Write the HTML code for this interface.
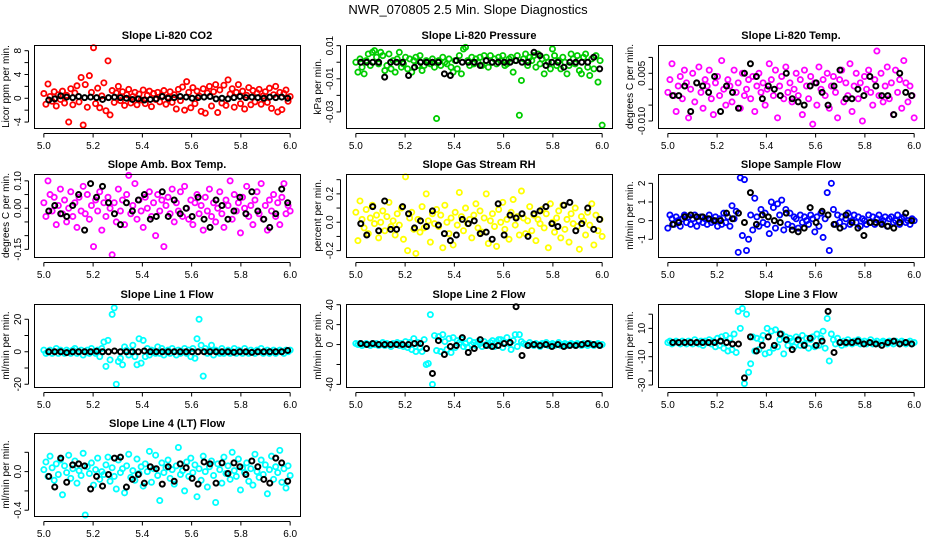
<!DOCTYPE html>
<html><head><meta charset="utf-8"><style>
html,body{margin:0;padding:0;background:#fff}
svg{display:block;font-family:"Liberation Sans",sans-serif}
</style></head><body>
<svg id="chart" width="936" height="540" viewBox="0 0 936 540" xmlns="http://www.w3.org/2000/svg">
<rect width="936" height="540" fill="#fff"/>
<text x="468" y="14" font-size="13" text-anchor="middle">NWR_070805  2.5 Min. Slope Diagnostics</text>
</svg>
<script>
// ---- data ----
const xTicks = [5.0, 5.2, 5.4, 5.6, 5.8, 6.0];
const xTickLabels = ["5.0", "5.2", "5.4", "5.6", "5.8", "6.0"];
const tStart = 5.0, tEnd = 6.0;
const bStart = 5.02, bStep = 0.02425;

const co2Vals = [0.8,-1.0,2.4,0.3,-0.5,1.1,-1.3,0.6,-0.2,1.2,-0.8,0.5,-4.0,1.6,-1.1,0.9,2.1,-0.6,3.5,-4.5,2.3,-1.5,3.8,1.0,8.5,-0.9,1.7,-1.6,0.4,2.6,-2.1,6.3,-2.8,1.3,-0.7,0.9,2.0,-0.4,1.1,-1.2,0.6,1.5,-0.8,0.3,1.0,-1.1,0.7,-0.3,1.4,-0.9,0.5,1.2,-1.4,0.8,-0.2,1.0,-0.6,0.4,1.3,-1.0,0.2,1.1,-0.7,0.6,-1.8,1.5,-0.4,1.9,-2.0,2.8,1.0,-1.6,1.8,-0.9,1.2,0.4,-2.2,1.6,-2.5,0.9,2.0,-1.3,1.1,2.3,-2.4,1.4,-0.8,2.2,-1.2,3.1,0.7,1.6,-1.5,1.0,2.3,-0.9,1.2,-1.8,0.5,1.8,-1.1,1.3,-0.6,0.9,1.5,-1.0,0.4,1.1,-0.7,1.7,-1.7,0.6,2.0,-2.3,1.0,-1.9,0.8,1.4,-0.5,0.3];
const co2Avg = [-0.3,-0.1,0.4,0.2,0.1,0.3,0.1,0.2,0.1,-0.2,0.1,0.2,0.1,0.0,-0.2,-0.1,-0.3,-0.2,-0.1,0.3,0.0,0.1,0.3,0.2,0.0,0.1,0.2,0.3,-0.1,0.0,-0.1,0.1,0.3,0.1,0.2,0.1,0.0,0.2,0.1,0.2,0.0];

const presVals = [0.000,-0.006,0.002,-0.003,-0.007,0.001,0.005,-0.002,0.006,0.007,0.003,-0.001,0.006,0.004,-0.005,-0.002,0.005,-0.004,0.001,-0.006,0.002,0.006,-0.003,-0.001,0.003,-0.004,0.002,-0.006,0.001,0.003,-0.002,0.004,-0.005,-0.002,0.001,0.000,-0.001,0.002,-0.003,-0.034,0.001,-0.002,0.003,0.000,-0.001,0.002,-0.003,-0.006,0.001,-0.004,0.004,-0.007,0.008,0.009,0.001,-0.002,0.003,-0.001,0.002,0.000,0.003,-0.002,0.004,0.001,-0.003,0.004,0.000,0.002,-0.001,0.003,0.001,0.004,-0.002,-0.001,0.002,0.003,-0.006,0.001,0.004,-0.032,-0.011,0.002,0.005,-0.002,0.003,0.001,0.004,-0.003,0.005,-0.001,0.002,-0.007,0.003,0.000,-0.004,0.008,0.004,-0.002,0.001,-0.004,0.003,0.000,-0.007,-0.002,0.005,0.002,-0.001,0.004,-0.005,-0.007,0.003,0.005,-0.003,-0.008,0.002,-0.004,0.004,-0.012,0.001,-0.038];
const presAvg = [0,0,0,0,-0.009,0,0,0,-0.008,-0.003,0,0,0,0,-0.007,-0.008,0.001,0,0,0,-0.002,0.001,0,0,0,0,0.001,0,0,0.006,0.004,-0.002,0,0,-0.003,0,0,0,0,0.003,-0.004];

const tempVals = [-0.001,0.003,0.008,-0.002,-0.007,0.001,0.004,-0.003,0.006,0.002,-0.009,0.000,0.005,-0.004,0.002,0.007,-0.001,-0.006,0.003,0.001,0.006,-0.003,-0.008,0.002,0.004,-0.002,0.009,0.000,-0.005,0.003,0.001,-0.004,0.006,-0.001,0.002,-0.006,0.005,-0.002,0.000,0.003,-0.003,0.004,-0.007,0.001,0.005,-0.001,0.002,-0.005,0.000,0.008,0.003,-0.002,0.006,-0.009,0.001,0.004,-0.003,0.007,-0.001,0.002,-0.004,0.000,0.005,-0.002,0.003,-0.008,0.006,0.001,-0.003,0.004,-0.011,0.002,-0.005,0.007,0.000,0.003,-0.002,0.005,-0.006,0.001,0.004,-0.001,-0.009,0.003,0.006,-0.004,0.002,-0.002,0.008,-0.007,0.001,0.005,-0.003,0.002,-0.010,0.004,0.000,0.006,-0.001,-0.005,0.003,0.012,-0.002,0.005,-0.004,0.001,0.007,-0.003,0.002,-0.008,0.006,-0.001,0.003,-0.006,0.009,0.002,-0.004,0.001,-0.002,-0.009];
const tempAvg = [-0.002,-0.002,0.001,-0.007,0.002,0.001,-0.001,0.004,-0.007,0.001,-0.001,-0.006,0.005,0.008,0.004,-0.003,0.001,0.000,-0.002,0.005,-0.003,-0.004,-0.005,0.001,0.002,-0.001,-0.005,0.001,0.006,-0.003,-0.003,0.000,-0.002,0.004,0.001,-0.002,-0.002,-0.008,0.005,-0.001,-0.002];

const ambVals = [0.02,-0.03,0.10,0.05,-0.01,0.04,-0.06,0.01,0.07,-0.02,0.03,-0.05,0.00,0.06,-0.03,0.02,-0.07,0.04,-0.01,0.08,-0.02,0.05,-0.04,0.01,-0.14,0.03,-0.01,0.06,-0.08,0.02,-0.03,0.04,0.00,-0.17,0.02,-0.05,0.07,-0.01,0.03,-0.06,0.05,0.12,-0.02,0.01,0.09,-0.04,0.03,-0.01,-0.07,0.04,0.00,0.06,-0.03,0.02,-0.10,0.05,-0.01,0.03,-0.14,0.01,0.04,-0.02,0.07,-0.05,0.02,-0.01,0.06,-0.03,0.08,0.00,-0.04,0.03,-0.06,0.02,0.05,-0.02,0.01,-0.08,0.04,-0.01,0.07,-0.03,0.02,-0.05,0.00,0.06,-0.02,-0.07,0.03,0.01,0.10,-0.04,0.05,-0.01,0.02,-0.09,0.04,0.00,0.08,-0.03,0.01,-0.06,0.03,0.06,-0.02,0.09,-0.04,0.01,-0.08,0.03,-0.01,0.05,-0.03,0.02,-0.06,0.04,0.09,-0.02,0.01,-0.01];
const ambAvg = [-0.01,0.01,-0.02,-0.03,0.01,0.05,-0.08,0.09,0.04,0.08,0.02,-0.02,-0.06,0.02,-0.01,0.03,0.05,-0.04,-0.03,0.06,-0.03,0.03,-0.02,0.00,-0.03,0.04,-0.04,-0.07,0.03,0.01,-0.04,-0.01,0.04,-0.02,0.06,-0.01,-0.04,-0.07,-0.02,0.07,0.02];

const rhVals = [0.07,-0.13,0.15,0.02,-0.04,0.09,-0.08,0.03,0.12,-0.01,0.05,-0.11,0.00,0.08,-0.06,0.04,0.14,-0.03,0.01,-0.09,0.06,-0.02,0.10,-0.12,0.32,-0.20,0.03,0.07,-0.05,-0.22,0.02,-0.07,0.11,-0.04,0.20,0.01,-0.14,0.06,-0.01,0.09,-0.03,0.05,-0.18,0.12,0.00,-0.08,0.03,-0.16,0.07,-0.02,0.21,0.04,-0.06,0.10,-0.01,0.02,-0.11,0.05,0.13,-0.04,0.08,-0.07,0.03,0.20,-0.15,0.01,0.06,-0.03,-0.17,0.09,0.00,0.14,-0.05,0.02,-0.12,0.07,0.16,-0.02,0.04,-0.09,0.22,0.03,-0.08,0.01,0.11,-0.06,0.05,-0.13,0.02,-0.01,0.09,-0.04,0.06,-0.18,0.13,0.00,-0.07,0.03,0.08,-0.11,0.12,-0.05,0.02,-0.14,0.06,-0.01,0.10,-0.03,-0.19,0.04,0.01,-0.09,0.07,-0.02,0.13,-0.16,0.05,-0.06,0.02,-0.10];
const rhAvg = [-0.01,-0.09,0.11,-0.06,0.15,-0.05,-0.05,0.11,0.06,-0.04,0.01,-0.03,0.08,-0.02,-0.08,-0.13,-0.09,0.02,-0.01,0.01,-0.08,-0.07,-0.12,0.13,-0.09,0.05,0.03,0.06,-0.10,0.06,0.08,0.11,-0.01,-0.03,0.12,0.14,-0.06,-0.01,0.10,-0.05,0.02];

const sampVals = [-0.4,0.3,0.1,-0.2,0.2,0.0,-0.3,0.1,0.3,-0.1,0.2,-0.2,0.1,0.3,-0.3,0.0,0.2,-0.1,0.1,-0.2,0.3,-0.1,0.0,0.2,-0.3,0.1,-0.2,0.4,-0.1,0.2,-0.3,0.8,0.1,0.5,-1.7,2.3,-0.8,2.2,-1.6,-1.0,0.3,-0.5,1.2,0.2,-0.3,0.6,-0.1,0.4,-0.2,-0.7,1.0,0.7,-0.4,0.9,0.3,1.1,-0.5,0.6,-0.2,0.4,-0.3,0.2,0.1,-0.4,0.3,-0.1,0.2,0.0,-0.2,0.3,0.1,-0.6,0.2,-0.3,0.4,-0.9,0.1,1.5,-1.6,2.0,0.6,-0.2,0.3,-0.1,0.2,-0.3,0.1,0.4,-0.2,0.0,0.3,-0.1,0.2,-0.3,0.1,0.0,-0.2,0.3,-0.1,0.2,-0.2,0.1,0.3,-0.1,0.0,0.2,-0.3,0.1,0.2,-0.1,0.0,0.3,-0.2,0.1,0.2,-0.1,0.0,-0.2,0.1,0.0];
const sampAvg = [-0.2,-0.1,0.2,0.3,0.2,0.2,0.1,0.0,0.0,0.4,0.1,0.4,-0.1,1.5,-0.2,0.3,0.2,0.0,-0.1,0.4,-0.5,-0.6,-0.4,0.7,-0.1,0.5,0.3,-0.2,-0.4,0.3,-0.1,-0.4,-0.8,-0.1,-0.1,-0.2,-0.3,-0.4,-0.1,0.4,0.0];

const l1Vals = [1,-1,0,1,-1,0,2,-1,1,0,-1,1,0,-1,1,2,-1,0,1,-2,0,1,-1,2,0,-1,1,-3,2,6,-9,7,-5,23,27,-20,-6,-4,-8,3,1,-2,0,4,-3,-8,8,-7,7,-3,2,-2,1,0,-1,3,-1,2,-2,0,1,-1,2,0,-2,1,-1,0,2,-1,1,-3,2,-4,8,20,4,-15,2,-1,1,4,-2,1,0,-1,2,-1,0,1,-1,0,2,-1,1,0,-1,2,0,-1,1,0,-1,1,0,2,-1,0,1,-1,0,1,-1,0,1,0,-1,1,0,1];
const l1Avg = [0,0,0,-0.5,0,0,0,0,0.3,0,0,0.5,0,0,0,0,0.5,0,0,0,0,0,0,0,0,0,0,0,0,0,0,-0.3,0,0,-0.4,0,0,0,0,0,0.8];

const l2Vals = [1,0,1,-1,0,1,0,-1,1,0,1,-1,0,2,-1,1,0,-2,1,0,2,-1,1,-2,3,-3,2,-5,6,-7,2,-3,-7,5,-20,-19,30,-40,9,-6,8,-7,10,3,-5,6,-8,7,-3,4,2,5,-2,1,-3,4,0,2,-1,3,1,-2,3,0,-1,2,4,-2,3,5,5,-3,2,7,1,-5,4,10,-2,10,3,1,0,-1,2,0,-1,1,0,-2,1,0,2,-1,0,1,-1,0,2,-1,0,1,-1,0,1,0,-1,1,0,-1,1,0,-1,1,0,-1,0,1,-1,0];
const l2Avg = [1,0,1,0,0,0,0,0,0,1,1,-4,-29,4,-10,-2,-1,7,-8,-4,5,-1,-2,-1,1,2,38,-11,-1,0,-1,0,-2,0,-2,-1,-1,0,1,0,-1];

const l3Vals = [0,1,-1,0,1,0,-1,1,0,-1,1,0,-1,2,0,-1,1,-2,1,0,2,-1,1,-3,3,-2,4,-4,5,-6,3,-5,6,-7,22,10,24,-29,20,-21,-15,4,-6,3,-5,2,5,-8,10,-7,8,-4,9,-3,2,6,-8,4,-2,3,1,-3,4,2,-2,5,-1,3,-4,2,4,-3,6,-2,3,8,-4,17,-13,6,2,-1,3,0,-2,1,-1,2,0,-1,1,0,2,-1,0,1,-1,0,2,-1,0,1,-1,0,1,0,-1,1,0,-1,1,0,-1,1,0,-1,0,1,-1,0];
const l3Avg = [0,0,0,0,0,0,0,0,1,0,-1,-1,-25,4,-6,-2,4,-2,6,2,-5,2,-2,3,-2,1,22,-7,0,0,0,1,-1,0,-1,-2,0,1,-1,0,-1];

const l4Vals = [0.02,0.10,-0.05,0.16,0.04,-0.09,0.08,-0.03,0.12,-0.24,0.06,-0.01,0.17,-0.07,0.03,0.11,-0.12,0.01,-0.04,0.19,-0.45,0.05,-0.02,0.09,-0.14,0.02,0.14,-0.08,0.00,-0.03,0.07,0.15,-0.10,0.04,-0.05,-0.18,0.12,-0.01,0.03,-0.22,0.06,0.18,-0.06,0.01,-0.09,0.13,-0.02,0.05,-0.15,0.08,0.00,0.21,-0.11,0.03,0.17,-0.04,-0.30,0.09,-0.01,0.04,0.12,-0.07,0.02,-0.13,0.06,0.25,-0.03,0.01,-0.20,0.10,-0.05,0.14,-0.01,0.07,-0.26,0.03,-0.09,0.16,0.00,-0.16,0.05,0.11,-0.04,-0.32,0.08,0.02,-0.12,0.15,-0.02,0.06,-0.08,0.20,0.01,-0.05,0.13,-0.19,0.04,-0.01,0.09,-0.10,0.03,-0.14,0.18,0.00,-0.06,0.12,-0.03,0.07,-0.23,0.02,0.16,-0.08,0.05,-0.01,0.22,-0.11,0.03,-0.17,0.06,-0.04];
const l4Avg = [-0.05,-0.16,0.14,-0.11,0.07,0.08,0.06,-0.18,-0.05,-0.15,-0.03,0.14,0.15,-0.16,-0.08,-0.03,-0.12,0.05,0.03,-0.13,0.05,-0.10,0.08,0.04,-0.07,-0.13,0.10,0.08,-0.12,0.09,-0.02,0.09,0.05,-0.03,0.11,0.05,-0.08,-0.12,0.14,0.09,-0.10];

// y-axis ticks and labels per panel
const co2YTicks = [-4,-2,0,2,4,6,8], co2YLabels = ["-4","","0","","4","","8"];
const presYTicks = [0.01,0,-0.01,-0.02,-0.03], presYLabels = ["0.01","","-0.01","","-0.03"];
const tempYTicks = [0.01,0.005,0,-0.005,-0.01], tempYLabels = ["","0.005","","","-0.010"];
const ambYTicks = [0.1,0.05,0,-0.05,-0.1,-0.15], ambYLabels = ["0.10","","0.00","","","-0.15"];
const rhYTicks = [0.3,0.2,0.1,0,-0.1,-0.2], rhYLabels = ["","0.2","","0.0","","-0.2"];
const sampYTicks = [2,1,0,-1], sampYLabels = ["2","1","0","-1"];
const l1YTicks = [20,10,0,-10,-20], l1YLabels = ["20","","0","","-20"];
const l2YTicks = [40,20,0,-20,-40], l2YLabels = ["40","20","0","","-40"];
const l3YTicks = [20,10,0,-10,-20,-30], l3YLabels = ["","10","","-10","","-30"];
const l4YTicks = [0.2,0,-0.2,-0.4], l4YLabels = ["","0.0","","-0.4"];

const panels = [
 {name:"co2", title:"Slope Li-820 CO2", ylab:"Licor ppm per min.", vals:co2Vals, avg:co2Avg, col:"#ff0000", ymin:-5, ymax:8.96, yt:co2YTicks, yl:co2YLabels, c:0, r:0},
 {name:"pressure", title:"Slope Li-820 Pressure", ylab:"kPa per min.", vals:presVals, avg:presAvg, col:"#00cd00", ymin:-0.0397, ymax:0.0104, yt:presYTicks, yl:presYLabels, c:1, r:0},
 {name:"li820-temp", title:"Slope Li-820 Temp.", ylab:"degrees C per min.", vals:tempVals, avg:tempAvg, col:"#ff00ff", ymin:-0.0122, ymax:0.0139, yt:tempYTicks, yl:tempYLabels, c:2, r:0},
 {name:"amb-box-temp", title:"Slope Amb. Box Temp.", ylab:"degrees C per min.", vals:ambVals, avg:ambAvg, col:"#ff00ff", ymin:-0.178, ymax:0.125, yt:ambYTicks, yl:ambYLabels, c:0, r:1},
 {name:"gas-stream-rh", title:"Slope Gas Stream RH", ylab:"percent per min.", vals:rhVals, avg:rhAvg, col:"#ffff00", ymin:-0.245, ymax:0.34, yt:rhYTicks, yl:rhYLabels, c:1, r:1},
 {name:"sample-flow", title:"Slope Sample Flow", ylab:"ml/min per min.", vals:sampVals, avg:sampAvg, col:"#0000ff", ymin:-1.95, ymax:2.5, yt:sampYTicks, yl:sampYLabels, c:2, r:1},
 {name:"line1-flow", title:"Slope Line 1 Flow", ylab:"ml/min per min.", vals:l1Vals, avg:l1Avg, col:"#00ffff", ymin:-21.7, ymax:29.4, yt:l1YTicks, yl:l1YLabels, c:0, r:2},
 {name:"line2-flow", title:"Slope Line 2 Flow", ylab:"ml/min per min.", vals:l2Vals, avg:l2Avg, col:"#00ffff", ymin:-42.6, ymax:40.7, yt:l2YTicks, yl:l2YLabels, c:1, r:2},
 {name:"line3-flow", title:"Slope Line 3 Flow", ylab:"ml/min per min.", vals:l3Vals, avg:l3Avg, col:"#00ffff", ymin:-31.4, ymax:27.2, yt:l3YTicks, yl:l3YLabels, c:2, r:2},
 {name:"line4-flow", title:"Slope Line 4 (LT) Flow", ylab:"ml/min per min.", vals:l4Vals, avg:l4Avg, col:"#00ffff", ymin:-0.46, ymax:0.40, yt:l4YTicks, yl:l4YLabels, c:0, r:3}
];

const NS = "http://www.w3.org/2000/svg";
const svg = document.getElementById("chart");
const colLeft = [34, 346, 658], rowTop = [45, 174, 304, 433];
const boxW = 266, boxH = 83;

function mk(tag, attrs, parent){
  const e = document.createElementNS(NS, tag);
  for (const k in attrs) e.setAttribute(k, attrs[k]);
  parent.appendChild(e);
  return e;
}

panels.forEach(p => {
  const L = colLeft[p.c], T = rowTop[p.r], R = L + boxW, B = T + boxH;
  const xr0 = 4.96, xr1 = 6.04;
  const xs = v => L + (v - xr0) / (xr1 - xr0) * boxW;
  const ys = v => B - (v - p.ymin) / (p.ymax - p.ymin) * boxH;
  const g = mk("g", {}, svg);
  
  

  const t = mk("text", {x: (L + R) / 2, y: T - 6, "font-size": 11, "font-weight": "bold", "text-anchor": "middle"}, g);
  t.textContent = p.title;
  
  

  const pts = mk("g", {fill: "none", "stroke-width": 1.8}, g);
  
  
  const n = p.vals.length;
  p.vals.forEach((v, i) => {
    const tm = tStart + (tEnd - tStart) * i / (n - 1);
    const c = mk("circle", {cx: xs(tm), cy: ys(v), r: 2.6, stroke: p.col}, pts);
    
    
  });
  p.avg.forEach((v, i) => {
    const tm = bStart + bStep * i;
    const c = mk("circle", {cx: xs(tm), cy: ys(v), r: 2.5, stroke: "#000", "stroke-width": 2}, pts);
    
    
  });

  const box = mk("rect", {x: L + 0.5, y: T + 0.5, width: boxW, height: boxH, fill: "none", stroke: "#000", "stroke-width": 1}, g);
  
  

  const xa = mk("g", {"font-size": 10, "text-anchor": "middle"}, g);
  
  
  mk("line", {x1: xs(5.0), x2: xs(6.0), y1: B + 5.5, y2: B + 5.5, stroke: "#000"}, xa);
  xTicks.forEach((v, i) => {
    mk("line", {x1: xs(v), x2: xs(v), y1: B + 5.5, y2: B + 9.5, stroke: "#000"}, xa);
    const tl = mk("text", {x: xs(v), y: B + 21}, xa);
    tl.textContent = xTickLabels[i];
    
    
  });

  const ya = mk("g", {"font-size": 10, "text-anchor": "middle"}, g);
  
  
  const vis = p.yt.filter(v => v >= p.ymin && v <= p.ymax);
  mk("line", {x1: L - 5.5, x2: L - 5.5, y1: ys(Math.max(...vis)), y2: ys(Math.min(...vis)), stroke: "#000"}, ya);
  p.yt.forEach((v, i) => {
    if (v < p.ymin || v > p.ymax) return;
    const y = ys(v);
    mk("line", {x1: L - 9.5, x2: L - 5.5, y1: y, y2: y, stroke: "#000"}, ya);
    if (p.yl[i]) {
      const tl = mk("text", {x: L - 13, y: y, transform: `rotate(-90 ${L - 13} ${y})`}, ya);
      tl.textContent = p.yl[i];
      
      
    }
  });
  const yl = mk("text", {x: L - 25, y: (T + B) / 2, "font-size": 10, "text-anchor": "middle", transform: `rotate(-90 ${L - 25} ${(T + B) / 2})`}, g);
  yl.textContent = p.ylab;
  
  
});
</script>
</body></html>
